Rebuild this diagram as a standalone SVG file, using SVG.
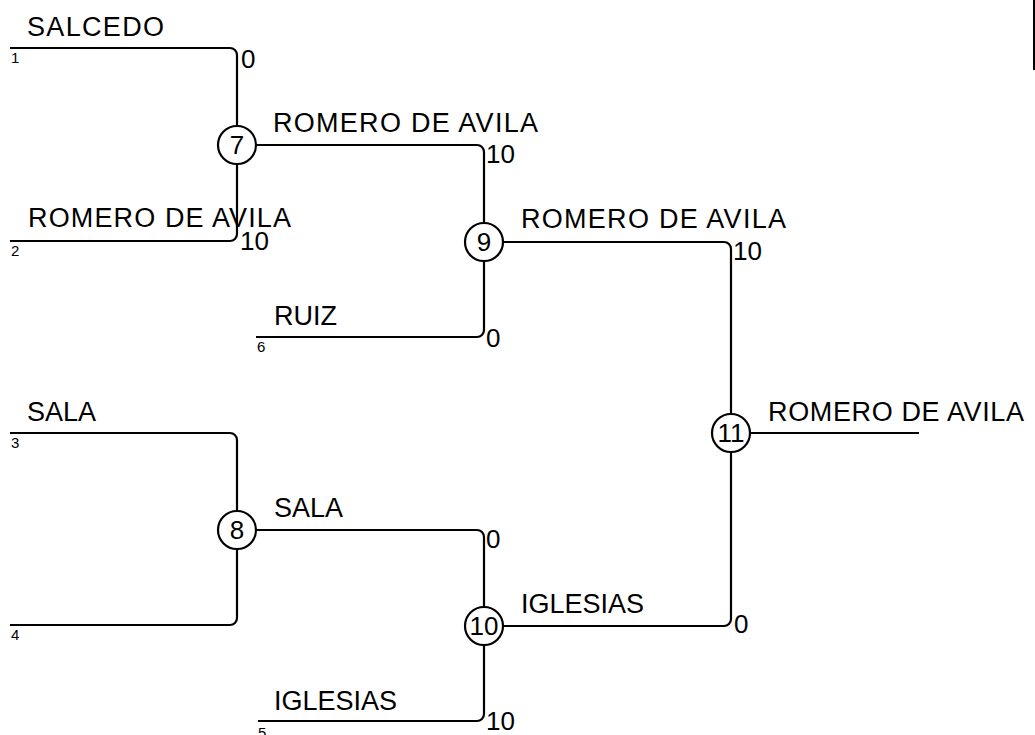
<svg xmlns="http://www.w3.org/2000/svg" width="1035" height="735" viewBox="0 0 1035 735">
<style>
.w{fill:none;stroke:#000;stroke-width:2.2}
.n circle{fill:#fff;stroke:#000;stroke-width:2.2}
text{font-family:"Liberation Sans",Arial,sans-serif;fill:#000}
.l{font-size:27px}
.d{font-size:26px}
.s{font-size:15px}
.c{font-size:26px;text-anchor:middle}
</style>
<rect width="1035" height="735" fill="#fff"/>
<rect x="1033" y="0" width="2" height="70" fill="#000"/>
<g id="connectors">
<path class="w" d="M10,48 H230 A7,7 0 0 1 237,55 V126"/>
<path class="w" d="M10,241 H230 A7,7 0 0 0 237,234 V164"/>
<path class="w" d="M256,145 H477 A7,7 0 0 1 484,152 V222"/>
<path class="w" d="M256,337 H477 A7,7 0 0 0 484,330 V261"/>
<path class="w" d="M503,242 H724 A7,7 0 0 1 731,249 V414"/>
<path class="w" d="M750,433 H919"/>
<path class="w" d="M10,433 H230 A7,7 0 0 1 237,440 V511"/>
<path class="w" d="M10,625 H230 A7,7 0 0 0 237,618 V549"/>
<path class="w" d="M256,530 H477 A7,7 0 0 1 484,537 V607"/>
<path class="w" d="M258,721 H477 A7,7 0 0 0 484,714 V645"/>
<path class="w" d="M503,626 H724 A7,7 0 0 0 731,619 V452"/>
</g>
<g id="labels">
<text class="l" x="27" y="36" textLength="137">SALCEDO</text>
<text class="s" x="11" y="63">1</text>
<text class="d" x="241" y="68">0</text>
<text class="l" x="28" y="227" textLength="263">ROMERO DE AVILA</text>
<text class="s" x="11" y="256">2</text>
<text class="d" x="240" y="250">10</text>
<text class="l" x="273" y="132" textLength="265">ROMERO DE AVILA</text>
<text class="d" x="486" y="163">10</text>
<text class="l" x="274" y="325">RUIZ</text>
<text class="s" x="257" y="352">6</text>
<text class="d" x="486" y="347">0</text>
<text class="l" x="521" y="228" textLength="265">ROMERO DE AVILA</text>
<text class="d" x="733" y="260">10</text>
<text class="l" x="768" y="421" textLength="256">ROMERO DE AVILA</text>
<text class="l" x="27" y="421">SALA</text>
<text class="s" x="11" y="448">3</text>
<text class="s" x="11" y="640">4</text>
<text class="l" x="274" y="517">SALA</text>
<text class="d" x="486" y="548">0</text>
<text class="l" x="274" y="710">IGLESIAS</text>
<text class="s" x="258" y="738">5</text>
<text class="d" x="486" y="730">10</text>
<text class="l" x="521" y="613">IGLESIAS</text>
<text class="d" x="734" y="633">0</text>
</g>
<g id="n7" class="n"><circle cx="237" cy="145" r="19"/><text class="c" x="237" y="154">7</text></g>
<g id="n9" class="n"><circle cx="484" cy="242" r="19"/><text class="c" x="484" y="251">9</text></g>
<g id="n8" class="n"><circle cx="237" cy="530" r="19"/><text class="c" x="237" y="539">8</text></g>
<g id="n10" class="n"><circle cx="484" cy="626" r="19"/><text class="c" x="484" y="635">10</text></g>
<g id="n11" class="n"><circle cx="731" cy="433" r="19"/><text class="c" x="731" y="442">11</text></g>
</svg>
